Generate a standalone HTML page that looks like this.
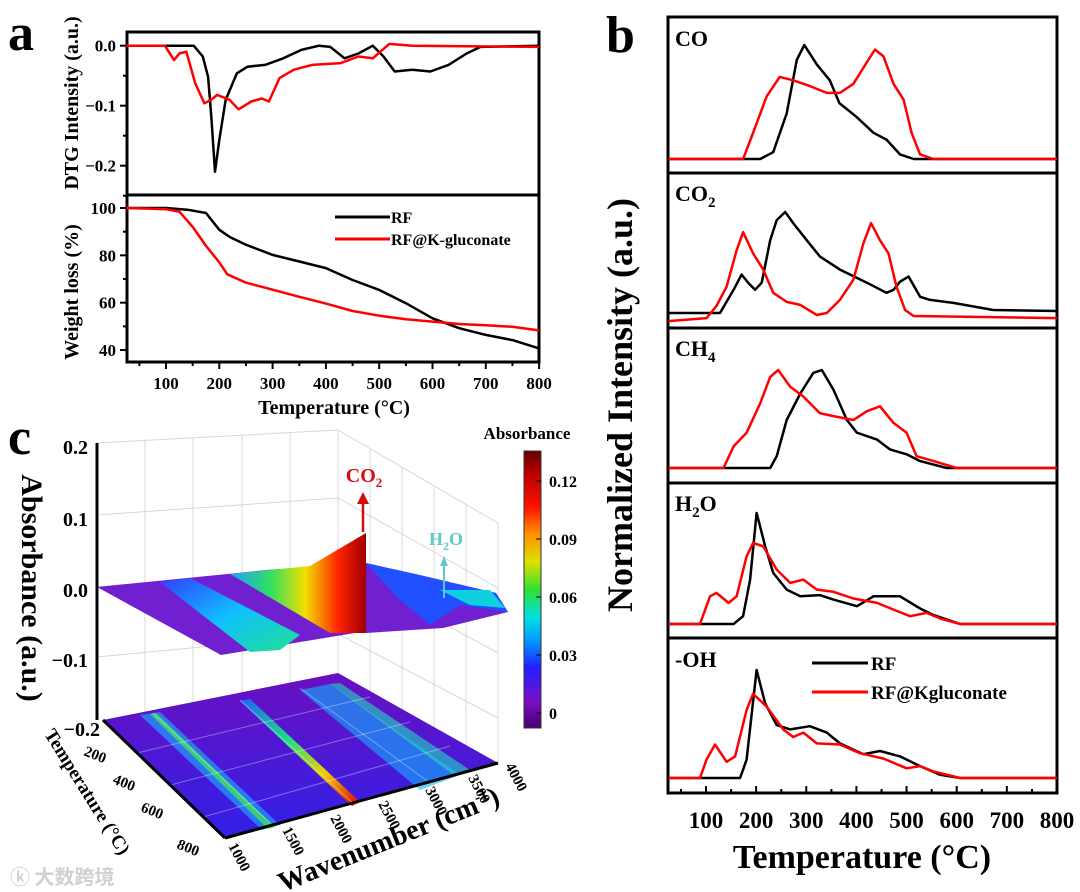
<!DOCTYPE html>
<html><head><meta charset="utf-8"><style>
html,body{margin:0;padding:0;background:#fff;}
svg{display:block;font-family:"Liberation Serif","Noto Serif CJK SC",serif;font-weight:bold;}
</style></head><body>
<svg id="fig" width="1080" height="892" viewBox="0 0 1080 892" xmlns="http://www.w3.org/2000/svg">
<defs>
<linearGradient id="cbar" x1="0" y1="1" x2="0" y2="0">
<stop offset="0" stop-color="#4a0070"/><stop offset="0.1" stop-color="#7a10c8"/><stop offset="0.22" stop-color="#2020ff"/><stop offset="0.32" stop-color="#00a0ff"/><stop offset="0.4" stop-color="#00e0e0"/><stop offset="0.5" stop-color="#30e030"/><stop offset="0.6" stop-color="#e0e000"/><stop offset="0.7" stop-color="#ff9000"/><stop offset="0.8" stop-color="#ff1000"/><stop offset="0.93" stop-color="#b00000"/><stop offset="1" stop-color="#600000"/>
</linearGradient>
<linearGradient id="co2g" x1="0" y1="0" x2="1" y2="0">
<stop offset="0" stop-color="#20a0ff"/><stop offset="0.3" stop-color="#30e060"/><stop offset="0.55" stop-color="#f0e000"/><stop offset="0.8" stop-color="#ff2000"/><stop offset="1" stop-color="#a00000"/>
</linearGradient>
<linearGradient id="blueband" x1="0" y1="0" x2="1" y2="1">
<stop offset="0" stop-color="#3040ff"/><stop offset="0.5" stop-color="#10c0ff"/><stop offset="1" stop-color="#20e090"/>
</linearGradient>
<linearGradient id="floorg" x1="0" y1="0" x2="0" y2="1">
<stop offset="0" stop-color="#6a10c0"/><stop offset="1" stop-color="#3020e8"/>
</linearGradient>
<linearGradient id="stripeCO2" x1="0" y1="0" x2="1" y2="1">
<stop offset="0" stop-color="#2060ff"/><stop offset="0.4" stop-color="#20e080"/><stop offset="0.7" stop-color="#f0d000"/><stop offset="1" stop-color="#e00000"/>
</linearGradient>
</defs>

<!-- panel letters -->
<text x="8" y="50" font-size="52">a</text>
<text x="606" y="52" font-size="52">b</text>
<text x="8" y="454" font-size="52">c</text>

<!-- Panel a -->
<g id="pa">
<rect x="127" y="32" width="412" height="330" fill="none" stroke="#000" stroke-width="3"/>
<line x1="127" y1="195" x2="539" y2="195" stroke="#000" stroke-width="3"/>
<text transform="translate(78,103) rotate(-90)" text-anchor="middle" font-size="20">DTG Intensity (a.u.)</text>
<text transform="translate(78,292) rotate(-90)" text-anchor="middle" font-size="20">Weight loss (%)</text>
<text x="334" y="414" text-anchor="middle" font-size="20">Temperature (°C)</text>
<line x1="335" y1="217" x2="390" y2="217" stroke="#000" stroke-width="3"/>
<text x="391" y="223" font-size="16">RF</text>
<line x1="335" y1="239" x2="390" y2="239" stroke="#f00" stroke-width="3"/>
<text x="391" y="245" font-size="16">RF@K-gluconate</text>
</g>

<!-- Panel b -->
<g id="pb">
<rect x="668" y="17" width="389" height="776" fill="none" stroke="#000" stroke-width="3"/>
<text transform="translate(632,405) rotate(-90)" text-anchor="middle" font-size="36">Normalized Intensity (a.u.)</text>
<text x="862" y="868" text-anchor="middle" font-size="34">Temperature (°C)</text>
<text x="675" y="46" font-size="22">CO</text>
<text x="675" y="201" font-size="22">CO<tspan font-size="15" dy="6">2</tspan></text>
<text x="675" y="356" font-size="22">CH<tspan font-size="15" dy="6">4</tspan></text>
<text x="675" y="511" font-size="22">H<tspan font-size="15" dy="6">2</tspan><tspan dy="-6">O</tspan></text>
<text x="675" y="667" font-size="22">-OH</text>
<line x1="812" y1="663" x2="868" y2="663" stroke="#000" stroke-width="3"/>
<text x="871" y="670" font-size="19">RF</text>
<line x1="812" y1="692" x2="868" y2="692" stroke="#f00" stroke-width="3"/>
<text x="871" y="699" font-size="19">RF@Kgluconate</text>
</g>

<!-- Panel c -->
<g id="pc">
<g stroke="#d8d8d8" stroke-width="1" fill="none">
<line x1="97" y1="443" x2="338" y2="430"/><line x1="338" y1="430" x2="498" y2="523"/>
<line x1="97" y1="515" x2="338" y2="498"/><line x1="338" y1="498" x2="498" y2="588"/>
<line x1="97" y1="587" x2="338" y2="566"/><line x1="338" y1="566" x2="498" y2="653"/>
<line x1="97" y1="657" x2="338" y2="634"/><line x1="338" y1="634" x2="498" y2="718"/>
<line x1="338" y1="430" x2="338" y2="673"/><line x1="498" y1="523" x2="498" y2="763"/>
<line x1="145" y1="440" x2="145" y2="712"/><line x1="193" y1="438" x2="193" y2="706"/><line x1="242" y1="435" x2="242" y2="698"/><line x1="290" y1="433" x2="290" y2="690"/>
<line x1="370" y1="449" x2="370" y2="692"/><line x1="402" y1="467" x2="402" y2="710"/><line x1="434" y1="486" x2="434" y2="727"/><line x1="466" y1="504" x2="466" y2="745"/>
</g>
<polygon points="103,720 338,673 498,763 225,838" fill="url(#floorg)"/>
<polygon points="140,715 160,712 280,825 262,830" fill="#20a0ff" opacity="0.7"/>
<polygon points="150,714 156,713 275,827 268,829" fill="#40e060" opacity="0.8"/>
<polygon points="240,701 250,699 360,802 352,806" fill="url(#stripeCO2)"/>
<polygon points="300,690 330,684 460,775 420,790" fill="#10b0ff" opacity="0.6"/>
<polygon points="330,684 340,683 470,770 455,776" fill="#20e0c0" opacity="0.6"/>
<g stroke="#ffffff" stroke-opacity="0.35" stroke-width="1">
<line x1="133" y1="754" x2="370" y2="697"/><line x1="163" y1="787" x2="410" y2="722"/><line x1="193" y1="820" x2="450" y2="746"/>
<line x1="153" y1="713" x2="270" y2="823"/><line x1="240" y1="700" x2="355" y2="805"/><line x1="300" y1="688" x2="430" y2="783"/>
</g>
<polygon points="97,587 267,570 366,563 496,593 508,612 443,628 366,633 355,633 221,655" fill="#7020d0"/>
<polygon points="160,582 190,578 300,635 280,650 250,652" fill="url(#blueband)"/>
<polygon points="230,574 310,566 366,533 366,633 330,633" fill="url(#co2g)"/>
<polygon points="366,563 420,575 496,593 508,612 460,605 430,625 400,600" fill="#2050ff"/>
<polygon points="440,590 490,590 505,608 470,605" fill="#10d0e0"/>
<line x1="97" y1="443" x2="97" y2="720" stroke="#000" stroke-width="3"/>
<line x1="103" y1="720" x2="225" y2="838" stroke="#000" stroke-width="3"/>
<line x1="225" y1="838" x2="498" y2="763" stroke="#000" stroke-width="3"/>
<g font-size="20" text-anchor="end">
<text x="88" y="454">0.2</text><text x="88" y="526">0.1</text><text x="88" y="597">0.0</text><text x="88" y="667">−0.1</text><text x="100" y="736">−0.2</text>
</g>
<text transform="translate(22,588) rotate(90)" text-anchor="middle" font-size="30">Absorbance (a.u.)</text>
<g font-size="15">
<text transform="translate(83,755) rotate(22)">200</text><text transform="translate(112,783) rotate(22)">400</text><text transform="translate(140,811) rotate(22)">600</text><text transform="translate(176,848) rotate(22)">800</text>
</g>
<text transform="translate(82,795) rotate(58)" text-anchor="middle" font-size="19">Temperature (°C)</text>
<g font-size="15">
<text transform="translate(228,846) rotate(62)">1000</text><text transform="translate(282,830) rotate(62)">1500</text><text transform="translate(330,818) rotate(62)">2000</text><text transform="translate(378,804) rotate(62)">2500</text><text transform="translate(425,790) rotate(62)">3000</text><text transform="translate(468,778) rotate(62)">3500</text><text transform="translate(505,766) rotate(62)">4000</text>
</g>
<text transform="translate(392,848) rotate(-22)" text-anchor="middle" font-size="28">Wavenumber (cm<tspan font-size="16" dy="-10">-1</tspan><tspan dy="10">)</tspan></text>
<line x1="363" y1="532" x2="363" y2="502" stroke="#d01010" stroke-width="2.5"/>
<polygon points="357,504 369,504 363,492" fill="#d01010"/>
<text x="364" y="482" text-anchor="middle" font-size="20" fill="#d01010">CO<tspan font-size="13" dy="5">2</tspan></text>
<line x1="444" y1="598" x2="444" y2="564" stroke="#60c8c8" stroke-width="2"/>
<polygon points="440,566 448,566 444,556" fill="#60c8c8"/>
<text x="446" y="545" text-anchor="middle" font-size="18" fill="#60c8c8">H<tspan font-size="12" dy="5">2</tspan><tspan dy="-5">O</tspan></text>
<text x="527" y="439" text-anchor="middle" font-size="17">Absorbance</text>
<rect x="524" y="451" width="17" height="277" fill="url(#cbar)" stroke="#333" stroke-width="1"/>
<g id="cbticks" font-size="16"></g>
<text x="10" y="884" font-size="20" fill="#d0d0d0" font-family="'Noto Sans CJK SC',sans-serif">ⓚ 大数跨境</text>
</g>
<g id="series"></g>
</svg>
<script>
// ---- Panel a data ----
const dtgRfT = [25,152,169,179,185,192,200,212,233,253,286,320,354,387,408,435,461,488,508,529,562,596,630,664,690,800];
const dtgRfV = [0,0,-0.018,-0.052,-0.118,-0.21,-0.157,-0.09,-0.046,-0.035,-0.032,-0.021,-0.007,0,-0.002,-0.021,-0.013,0,-0.018,-0.043,-0.04,-0.043,-0.032,-0.013,-0.002,0];
const dtgKT = [25,98,115,125,138,155,172,185,196,219,236,260,280,293,313,340,374,428,461,488,502,519,562,800];
const dtgKV = [0,0,-0.024,-0.013,-0.01,-0.063,-0.096,-0.09,-0.082,-0.09,-0.106,-0.093,-0.088,-0.093,-0.054,-0.04,-0.032,-0.029,-0.018,-0.021,-0.01,0.003,0,-0.002];
const wT = [25,100,140,175,200,220,250,300,350,400,450,500,550,600,650,700,750,800];
const wRf = [100,100,99.3,97.9,90.8,87.7,84.5,80.2,77.4,74.6,69.6,65.4,59.8,53.4,49.2,46.4,44.2,40.7];
const wKT = [25,100,125,150,175,200,215,250,300,350,400,450,500,550,600,650,700,750,800];
const wK = [100,99.5,98.5,92,84,77,72,68.5,65.5,62.5,59.6,56.5,54.5,53,52,51,50.5,49.8,48.3];
const aXTicks = [100,200,300,400,500,600,700,800];
const dtgTicks = [0,-0.1,-0.2];
const dtgTickLabels = ["0.0","−0.1","−0.2"];
const wTicks = [100,80,60,40];
// ---- Panel b data ----
const coRfT=[25,208,234,261,281,296,321,347,366,400,434,460,487,514,800];
const coRfV=[0,0,0.06,0.4,0.87,1.0,0.83,0.69,0.49,0.37,0.23,0.17,0.04,0,0];
const coKT=[25,174,194,221,247,274,301,341,367,394,421,437,454,474,494,510,527,554,800];
const coKV=[0,0,0.23,0.55,0.72,0.69,0.65,0.58,0.58,0.66,0.85,0.96,0.9,0.66,0.52,0.23,0.04,0,0];
const co2RfT=[25,128,155,171,184,198,211,228,241,258,274,301,327,367,421,460,474,487,504,527,547,593,673,800];
const co2RfV=[0,0,0.23,0.38,0.3,0.23,0.3,0.72,0.92,1.0,0.89,0.72,0.56,0.43,0.3,0.2,0.23,0.31,0.36,0.16,0.13,0.1,0.03,0.02];
const co2KT=[25,101,121,141,161,174,194,214,234,261,288,321,341,367,394,414,429,447,464,480,497,514,800];
const co2KV=[-0.08,-0.05,0.07,0.26,0.62,0.8,0.59,0.43,0.2,0.11,0.08,-0.02,0,0.13,0.33,0.69,0.89,0.72,0.59,0.26,0.03,-0.03,-0.05];
const ch4RfT=[25,228,241,261,288,314,331,354,381,401,441,467,500,527,580,800];
const ch4RfV=[0,0,0.12,0.49,0.76,0.97,1.0,0.8,0.49,0.36,0.29,0.19,0.14,0.07,0,0];
const ch4KT=[25,135,155,181,208,228,244,268,294,327,354,394,421,447,474,500,520,554,600,800];
const ch4KV=[0,0,0.22,0.36,0.66,0.93,1.0,0.83,0.73,0.56,0.53,0.49,0.58,0.63,0.46,0.36,0.12,0.07,0,0];
const h2oRfT=[25,155,174,188,201,218,234,261,288,327,354,401,434,487,527,554,607,800];
const h2oRfV=[0,0,0.07,0.4,1.0,0.7,0.46,0.31,0.25,0.26,0.22,0.16,0.25,0.25,0.14,0.08,0,0];
const h2oKT=[25,88,108,121,145,161,181,194,214,241,268,294,321,354,394,441,474,507,540,567,607,800];
const h2oKV=[0,0,0.25,0.28,0.19,0.25,0.61,0.73,0.7,0.49,0.37,0.4,0.31,0.29,0.23,0.19,0.13,0.07,0.1,0.05,0,0];
const ohRfT=[25,168,181,201,218,241,268,307,341,367,414,447,487,527,567,607,800];
const ohRfV=[0,0,0.17,1.0,0.69,0.49,0.45,0.48,0.42,0.32,0.22,0.25,0.2,0.11,0.03,0,0];
const ohKT=[25,88,101,118,141,158,181,194,221,254,274,294,321,367,407,454,500,527,554,607,800];
const ohKV=[0,0,0.17,0.31,0.15,0.2,0.63,0.78,0.66,0.45,0.38,0.42,0.32,0.31,0.23,0.18,0.09,0.11,0.06,0,0];
const bXTicks=[100,200,300,400,500,600,700,800];
// ---- Panel c colorbar ----
const cbTicks=[0,0.03,0.06,0.09,0.12];
const cbTickLabels=["0","0.03","0.06","0.09","0.12"];

const NS="http://www.w3.org/2000/svg";
const root=document.getElementById('series');
function ax(t){return 166+(t-100)*0.533;}
function dtgY(v){return 45.7-v*600;}
function wY(w){return 208+(100-w)*2.367;}
function bx(t){return 706+(t-100)*0.5014;}
const bBase=[159,313,468,624,778], bAmp=[114,101,98,111,108];
function mk(tag){return document.createElementNS(NS,tag);}
function line(ts,vs,fx,fy,color,name,w){
  const p=mk('path');
  let d='';
  for(let i=0;i<ts.length;i++){d+=(i?'L':'M')+fx(ts[i]).toFixed(1)+','+fy(vs[i]).toFixed(1);}
  p.setAttribute('d',d);p.setAttribute('fill','none');p.setAttribute('stroke',color);
  p.setAttribute('stroke-width',w||2.5);p.setAttribute('stroke-linejoin','round');
  
  
  root.appendChild(p);
}
function tline(x1,y1,x2,y2,w){const l=mk('line');l.setAttribute('x1',x1);l.setAttribute('y1',y1);l.setAttribute('x2',x2);l.setAttribute('y2',y2);l.setAttribute('stroke','#000');l.setAttribute('stroke-width',w||2);


root.appendChild(l);}
function txt(x,y,s,size,anchor,name){const t=mk('text');t.setAttribute('x',x);t.setAttribute('y',y);t.setAttribute('font-size',size);t.setAttribute('text-anchor',anchor);t.textContent=s;


root.appendChild(t);}
// panel a ticks (outward)
aXTicks.forEach(t=>{const x=ax(t);tline(x,362,x,369);tline(x-26.6,362,x-26.6,366);txt(x,389,String(t),17,'middle','a-x-tick-label');});
dtgTicks.forEach((v,i)=>{const y=dtgY(v);tline(127,y,120,y);tline(127,y+30,123,y+30);txt(116,y+6,dtgTickLabels[i],17,'end','dtg-tick-label');});
wTicks.forEach(w=>{const y=wY(w);tline(127,y,120,y);if(w>40)tline(127,y+23.7,123,y+23.7);txt(116,y+6,String(w),17,'end','weight-tick-label');});
line(dtgRfT,dtgRfV,ax,dtgY,'#000','dtg-rf-line');
line(dtgKT,dtgKV,ax,dtgY,'#f00','dtg-rfk-line');
line(wT,wRf,ax,wY,'#000','weight-rf-line');
line(wKT,wK,ax,wY,'#f00','weight-rfk-line');
// panel b
const bSeries=[[coRfT,coRfV,coKT,coKV,'co'],[co2RfT,co2RfV,co2KT,co2KV,'co2'],[ch4RfT,ch4RfV,ch4KT,ch4KV,'ch4'],[h2oRfT,h2oRfV,h2oKT,h2oKV,'h2o'],[ohRfT,ohRfV,ohKT,ohKV,'oh']];
bSeries.forEach((s,i)=>{
  const fy=v=>bBase[i]-v*bAmp[i];
  line(s[0],s[1],bx,fy,'#000',s[4]+'-rf-line');
  line(s[2],s[3],bx,fy,'#f00',s[4]+'-rfk-line');
});
[173,328,483,638].forEach(y=>tline(668,y,1057,y,3));
bXTicks.forEach(t=>{const x=bx(t);tline(x,793,x,786);tline(x-25,793,x-25,789);txt(x,828,String(t),23,'middle','b-x-tick-label');});
// colorbar ticks
const cb=document.getElementById('cbticks');
cbTicks.forEach((v,i)=>{const y=713-(v/0.03)*58;
 const l=mk('line');l.setAttribute('x1',536);l.setAttribute('x2',541);l.setAttribute('y1',y);l.setAttribute('y2',y);l.setAttribute('stroke','#000');
 
 
 cb.appendChild(l);
 const t=mk('text');t.setAttribute('x',549);t.setAttribute('y',y+6);t.textContent=cbTickLabels[i];
 
 
 cb.appendChild(t);});
</script>
</body></html>
